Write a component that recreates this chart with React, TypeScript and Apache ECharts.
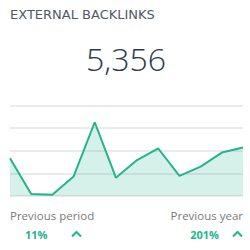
import React, { useEffect, useRef } from "react";
import * as echarts from "echarts";

const categories = ["1", "2", "3", "4", "5", "6", "7", "8", "9", "10", "11", "12"];
const backlinks = [167, 9, 6, 86, 326, 81, 159, 210, 89, 130, 192, 214];
const yTicks = [0, 100, 200, 300, 400];
const title = "EXTERNAL BACKLINKS";
const total = "5,356";
const prevPeriodLabel = "Previous period";
const prevPeriodValue = "11%";
const prevYearLabel = "Previous year";
const prevYearValue = "201%";

const GREEN = "#22b58c";
const FONT = "'Open Sans', sans-serif";

export default function App() {
  const ref = useRef<HTMLDivElement>(null);
  useEffect(() => {
    if (!ref.current) return;
    const chart = echarts.init(ref.current, null, { renderer: "svg" });
    chart.setOption({
      animation: false,
      backgroundColor: "#ffffff",
      grid: { left: 10, right: 7, top: 105.5, bottom: 54, containLabel: false },
      xAxis: {
        type: "category",
        data: categories,
        boundaryGap: false,
        axisLine: { show: false },
        axisTick: { show: false },
        axisLabel: { show: false },
        splitLine: { show: false },
      },
      yAxis: {
        type: "value",
        min: yTicks[0],
        max: yTicks[yTicks.length - 1],
        interval: yTicks[1] - yTicks[0],
        axisLine: { show: false },
        axisTick: { show: false },
        axisLabel: { show: false },
        splitLine: { show: true, lineStyle: { color: "#e5e5e5", width: 1.5 } },
      },
      series: [
        {
          type: "line",
          data: backlinks,
          symbol: "none",
          lineStyle: { color: GREEN, width: 2 },
          areaStyle: { color: "rgba(34,181,140,0.27)" },
        },
      ],
      graphic: [
        {
          type: "text",
          x: 10,
          y: 14.5,
          style: { text: title, font: `400 13px 'DejaVu Sans', sans-serif`, fill: "#505967", verticalAlign: "middle" },
        },
        {
          type: "text",
          x: 126,
          y: 58.5,
          style: {
            text: total,
            font: `300 32px ${FONT}`,
            fill: "#2a3a4d",
            align: "center",
            verticalAlign: "middle",
          },
        },
        {
          type: "text",
          x: 10,
          y: 215,
          style: { text: prevPeriodLabel, font: `400 11.5px ${FONT}`, fill: "#7a7a7a", verticalAlign: "middle" },
        },
        {
          type: "text",
          x: 243,
          y: 215,
          style: { text: prevYearLabel, font: `400 11.5px ${FONT}`, fill: "#7a7a7a", align: "right", verticalAlign: "middle" },
        },
        {
          type: "text",
          x: 25,
          y: 234,
          style: { text: prevPeriodValue, font: `700 11px ${FONT}`, fill: GREEN, verticalAlign: "middle" },
        },
        {
          type: "text",
          x: 219,
          y: 234,
          style: { text: prevYearValue, font: `700 11px ${FONT}`, fill: GREEN, align: "right", verticalAlign: "middle" },
        },
        {
          type: "polyline",
          shape: { points: [[72, 236.5], [76.5, 232], [81, 236.5]] },
          style: { stroke: GREEN, lineWidth: 2, fill: "none" },
        },
        {
          type: "polyline",
          shape: { points: [[233, 236.5], [237.5, 232], [242, 236.5]] },
          style: { stroke: GREEN, lineWidth: 2, fill: "none" },
        },
      ],
    });
    return () => chart.dispose();
  }, []);
  return (
    <div
      ref={ref}
      style={{ position: "fixed", left: 0, top: 0, width: 250, height: 250 }}
    />
  );
}
